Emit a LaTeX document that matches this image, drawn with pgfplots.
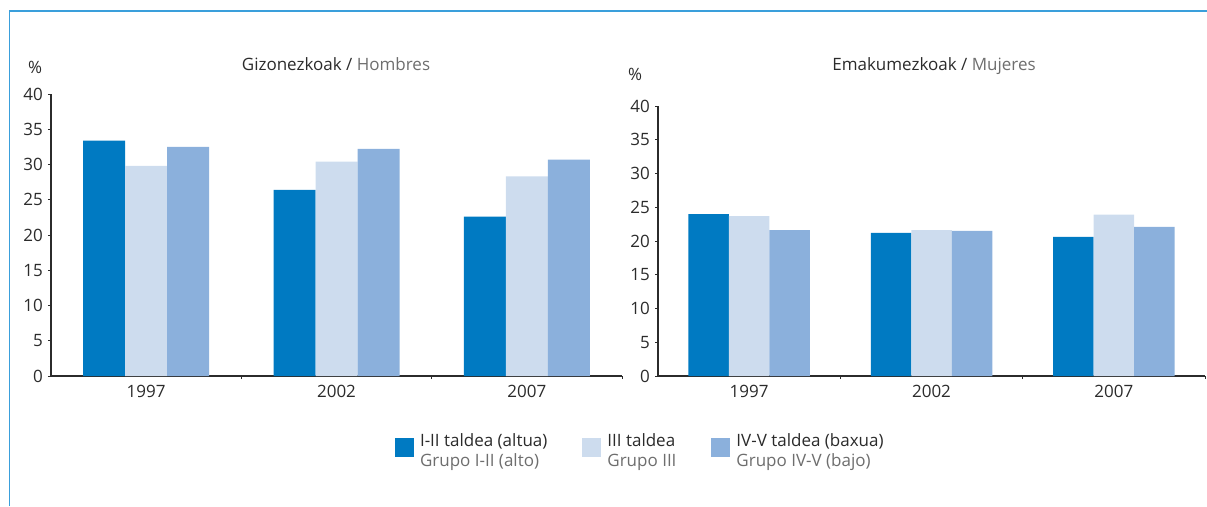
\documentclass[border=0pt]{standalone}
\usepackage{pgfplots}
\pgfplotsset{compat=1.18}
\usepackage{fontspec}
\setmainfont{Open Sans}
\definecolor{cDark}{HTML}{007AC2}
\definecolor{cLight}{HTML}{CDDCEE}
\definecolor{cMid}{HTML}{8BB0DC}
\definecolor{frameblue}{HTML}{3A9FDB}
\definecolor{txt}{HTML}{2B2B2B}
\definecolor{txtg}{HTML}{6E6E6E}
\pgfplotsset{
  mybars/.style={
    scale only axis,
    ybar=0pt,
    ymin=0, ymax=40,
    xmin=-0.5, xmax=2.5,
    ytick={0,5,...,40},
    xtick={0.5,1.5,2.5},
    xticklabels={},
    extra x ticks={0,1,2},
    extra x tick labels={1997,2002,2007},
    extra x tick style={major tick length=0pt},
    axis x line*=bottom,
    axis y line*=left,
    axis line style={txt, line width=1.1pt, -},
    tick style={txt, line width=0.9pt},
    tick align=outside,
    major tick length=3pt,
    font=\fontsize{17}{20}\selectfont,
    ticklabel style={font=\fontsize{17}{20}\selectfont, text=txt},
    /pgf/number format/assume math mode=true,
    yticklabel style={inner sep=0pt, xshift=-5pt},
    xticklabel style={inner sep=0pt, yshift=-9pt},
    clip=false,
  }
}
\begin{document}
\begin{tikzpicture}
\path[use as bounding box] (0pt,0pt) rectangle (1207pt,-506pt);
\draw[frameblue, line width=1.6pt] (9.5pt,-506pt) -- (9.5pt,-10.8pt) -- (1207pt,-10.8pt);

\begin{axis}[mybars,
  width=571pt, height=282pt,
  at={(51pt,-376pt)}, anchor=south west,
  bar width=42pt,
  legend columns=3,
  legend cell align=left,
  legend style={at={(0.6025,-0.2057)}, anchor=north west, draw=none,
    inner sep=0pt, outer sep=0pt,
    nodes={inner sep=0pt, align=left, font=\fontsize{17}{20}\selectfont, text=txt},
    /tikz/every odd column/.append style={column sep=6pt},
    /tikz/every even column/.append style={column sep=35pt}},
]
\addplot[fill=cDark, draw=none, legend image code/.code={\fill[cDark] (0pt,-5.5pt) rectangle (19pt,13.5pt);}]
  coordinates {(0,33.4) (1,26.4) (2,22.6)};
\addlegendentry{I-II taldea (altua)\\\textcolor{txtg}{Grupo I-II (alto)}}
\addplot[fill=cLight, draw=none, legend image code/.code={\fill[cLight] (0pt,-5.5pt) rectangle (19pt,13.5pt);}]
  coordinates {(0,29.8) (1,30.4) (2,28.3)};
\addlegendentry{III taldea\\\textcolor{txtg}{Grupo III}}
\addplot[fill=cMid, draw=none, legend image code/.code={\fill[cMid] (0pt,-5.5pt) rectangle (19pt,13.5pt);}]
  coordinates {(0,32.5) (1,32.2) (2,30.7)};
\addlegendentry{IV-V taldea (baxua)\\\textcolor{txtg}{Grupo IV-V (bajo)}}
\end{axis}

\begin{axis}[mybars,
  width=547pt, height=270pt,
  at={(658pt,-376pt)}, anchor=south west,
  bar width=40.5pt,
]
\addplot[fill=cDark, draw=none] coordinates {(0,24.0) (1,21.2) (2,20.6)};
\addplot[fill=cLight, draw=none] coordinates {(0,23.7) (1,21.6) (2,23.9)};
\addplot[fill=cMid, draw=none] coordinates {(0,21.6) (1,21.5) (2,22.1)};
\end{axis}

\node[anchor=base, font=\fontsize{17}{20}\selectfont, text=txt] at (336pt,-70pt) {Gizonezkoak / \textcolor{txtg}{Hombres}};
\node[anchor=base, font=\fontsize{17}{20}\selectfont, text=txt] at (934pt,-70pt) {Emakumezkoak / \textcolor{txtg}{Mujeres}};
\node[font=\fontsize{17}{20}\selectfont, text=txt] at (35pt,-67pt) {\%};
\node[font=\fontsize{17}{20}\selectfont, text=txt] at (635pt,-74pt) {\%};
\end{tikzpicture}
\end{document}
